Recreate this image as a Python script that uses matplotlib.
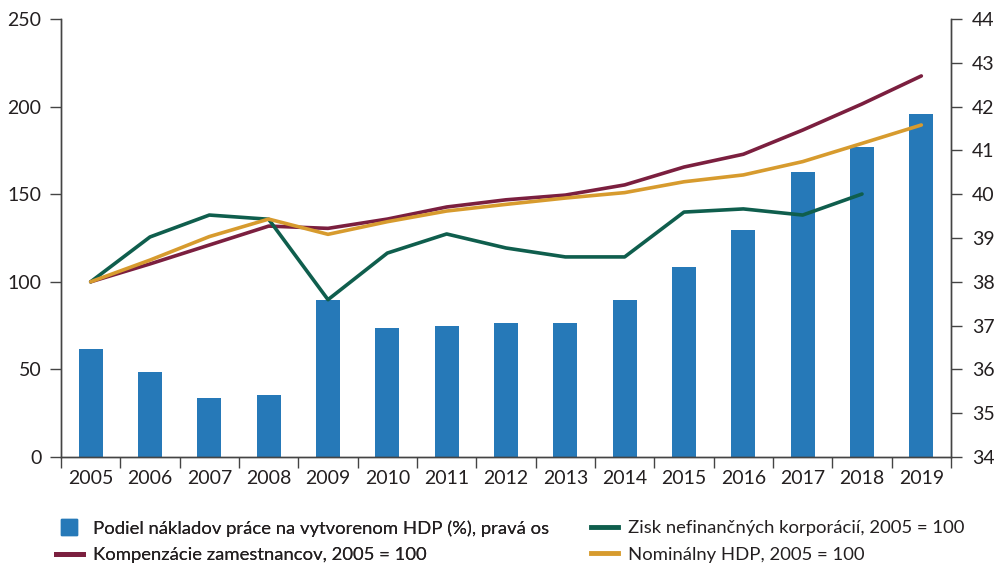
import numpy as np
import matplotlib
matplotlib.use("Agg")
import matplotlib.pyplot as plt
from matplotlib.lines import Line2D

years = ["2005", "2006", "2007", "2008", "2009", "2010", "2011", "2012",
         "2013", "2014", "2015", "2016", "2017", "2018", "2019"]

# share of labour cost on GDP (%), right axis
labour_share = [36.47, 35.94, 35.35, 35.42, 37.58, 36.95, 36.99, 37.06,
                37.06, 37.58, 38.34, 39.18, 40.51, 41.08, 41.83]
# indices, 2005 = 100, left axis
compensation = [100, 110.2, 121.0, 131.8, 130.5, 135.8, 142.7, 146.8,
                149.5, 155.3, 165.5, 172.8, 186.6, 201.5, 217.5]
profit = [100, 125.6, 138.1, 135.7, 89.8, 116.4, 127.3, 119.3,
          114.2, 114.2, 139.8, 141.6, 138.1, 150.1, np.nan]
nominal_gdp = [100, 112.4, 125.8, 135.8, 127.1, 134.3, 140.4, 144.2,
               147.8, 150.9, 157.1, 161.0, 168.6, 179.0, 189.5]

labels = ["Podiel nákladov práce na vytvorenom HDP (%), pravá os",
          "Kompenzácie zamestnancov, 2005 = 100",
          "Zisk nefinančných korporácií, 2005 = 100",
          "Nominálny HDP, 2005 = 100"]

c_bar = "#2679b8"
c_comp = "#7b1f3f"
c_profit = "#0f5e4d"
c_gdp = "#d79b2e"
c_text = "#231f20"

plt.rcParams["font.family"] = ["Lato", "DejaVu Sans"]
plt.rcParams["text.color"] = c_text
plt.rcParams["xtick.color"] = c_text
plt.rcParams["ytick.color"] = c_text

fig = plt.figure(figsize=(9.95, 5.65), dpi=100)
ax = fig.add_axes([61 / 995, 1 - 457 / 565, 890 / 995, 438 / 565])
ax2 = ax.twinx()

x = np.arange(len(years))
ax2.bar(x, np.array(labour_share) - 34, bottom=34, width=0.4, color=c_bar)
ax2.set_ylim(34, 44)
ax2.set_yticks(np.arange(34, 45, 1))

lw = 2.6
ax.plot(x, compensation, color=c_comp, lw=lw, solid_capstyle="round")
ax.plot(x, profit, color=c_profit, lw=lw, solid_capstyle="round")
ax.plot(x, nominal_gdp, color=c_gdp, lw=lw, solid_capstyle="round")
ax.set_ylim(0, 250)
ax.set_yticks(np.arange(0, 251, 50))
ax.set_xlim(-0.5, len(years) - 0.5)

# lines on top of the bars
ax.set_zorder(ax2.get_zorder() + 1)
ax.patch.set_visible(False)

fs = 14
ax.set_xticks(x)
ax.set_xticklabels(years)
ax.set_xticks(np.arange(-0.5, len(years)), minor=True)
ax.tick_params(axis="x", which="major", length=0, pad=9, labelsize=fs)
ax.tick_params(axis="x", which="minor", length=8, width=1, color="#444444")
ax.tick_params(axis="y", length=8, width=1, color="#444444", labelsize=fs, pad=6)
ax2.tick_params(axis="y", length=8, width=1, color="#444444", labelsize=fs, pad=7)

for a in (ax, ax2):
    a.spines["top"].set_visible(False)
    for s in ("left", "right", "bottom"):
        a.spines[s].set_color("#444444")
        a.spines[s].set_linewidth(1)

h_bar = Line2D([], [], lw=0, marker="s", markersize=12, color=c_bar)
h_comp = Line2D([], [], color=c_comp, lw=3.5)
h_profit = Line2D([], [], color=c_profit, lw=3.5)
h_gdp = Line2D([], [], color=c_gdp, lw=3.5)

leg_kw = dict(loc="upper left", frameon=False, fontsize=13.3, handlelength=1.45,
              handletextpad=0.55, labelspacing=0.58, borderpad=0, borderaxespad=0)
leg1 = fig.legend([h_bar, h_comp], labels[:2],
                  bbox_to_anchor=(56 / 995, 1 - 520 / 565), **leg_kw)
fig.legend([h_profit, h_gdp], labels[2:],
           bbox_to_anchor=(591 / 995, 1 - 520 / 565), **leg_kw)
fig.add_artist(leg1)

fig.savefig("out.png", dpi=100)
